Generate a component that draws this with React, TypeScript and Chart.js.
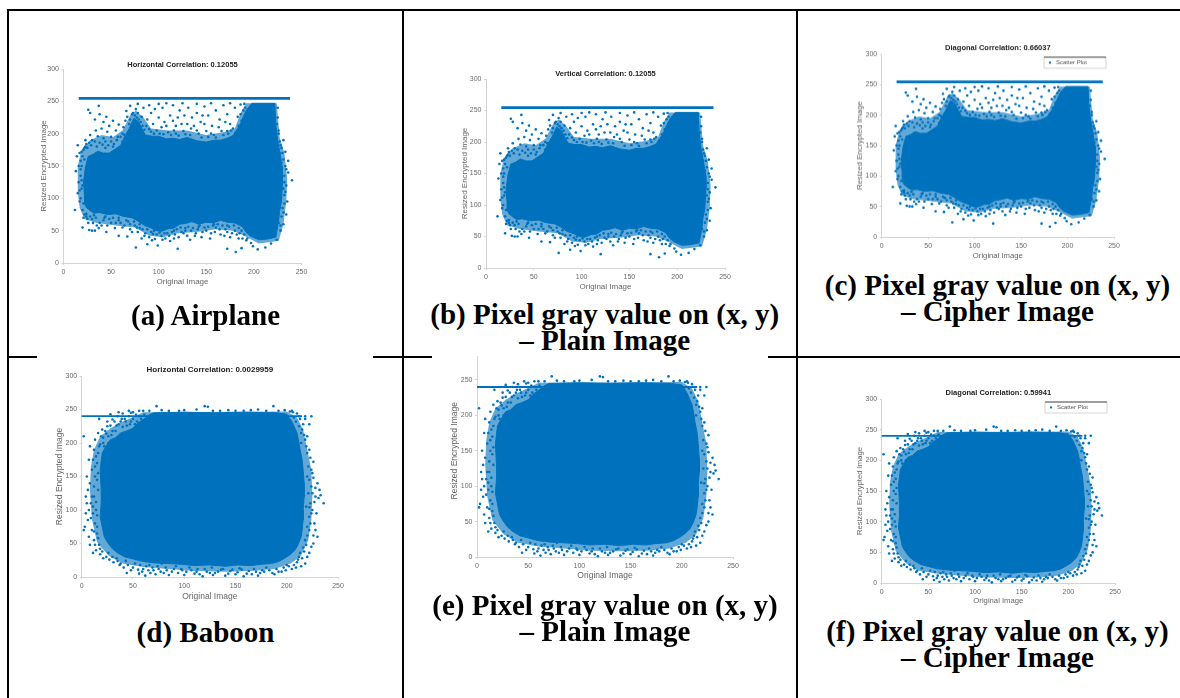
import React, { useEffect, useRef } from "react";
import { Chart, registerables } from "chart.js";

Chart.register(...registerables);

type Pt = [number, number];

const xTicksMax = 250;
const yTicksMax = 300;
const tickStep = 50;
const BLUE = "#0072BD";
const HALO = "rgba(0,114,189,0.62)";

// Airplane: dense body outline, speckled band outline, the saturated row, and scattered points
const airplaneBody: Pt[] = [
  [22, 105], [21, 125], [23, 148], [26, 165], [31, 168], [36, 173], [42, 170], [48, 170], [54, 176], [60, 182], [65, 198], [69, 208], [74, 224], [79, 218], [83, 206], [86, 198],
  [93, 196], [100, 196], [108, 192], [115, 193], [122, 191], [130, 194], [140, 189], [150, 187], [158, 190], [165, 190], [172, 193], [178, 197], [183, 208], [186, 216], [190, 230], [193, 238], [198, 247],
  [222, 247], [223, 215], [225, 190], [228, 165], [230, 145], [230, 125], [229, 95], [227, 80], [226, 65], [223, 40], [214, 37], [205, 36], [196, 42], [191, 49], [188, 56],
  [180, 62], [172, 63], [165, 66], [157, 62], [150, 63], [142, 60], [135, 64], [128, 61], [122, 60], [116, 54], [110, 53], [103, 49], [98, 50], [91, 55], [85, 58], [78, 65], [72, 70], [63, 72], [55, 76], [46, 75], [38, 78],
  [32, 77], [28, 81], [24, 86], [22, 92], [22, 105],
];
const airplaneBand: Pt[] = [
  [15, 110], [15, 150], [19, 175], [28, 190], [40, 198], [52, 195], [62, 205], [70, 228], [76, 236], [84, 225], [92, 208], [110, 205], [130, 205], [150, 198], [168, 202], [180, 208], [186, 232], [192, 247],
  [224, 247], [227, 195], [232, 170], [235, 130], [234, 95], [231, 60], [226, 34], [205, 30], [190, 42], [178, 50], [160, 52], [140, 48], [120, 46], [105, 40], [90, 42], [75, 55], [55, 58], [35, 62], [22, 68], [17, 85], [15, 110],
];
const airplaneRow: Pt[] = [[16, 254.5], [238, 254.5]];
const airplanePoints: Pt[] = [
  [26, 237], [37, 243], [28, 232], [33, 222], [38, 230], [42, 218], [45, 226], [48, 212], [52, 220], [55, 205],
  [58, 214], [62, 200], [40, 208], [46, 203], [34, 205], [28, 198], [23, 190], [30, 190], [36, 196], [42, 193],
  [50, 195], [56, 190], [63, 210], [66, 235], [70, 243], [78, 246], [84, 240], [90, 244], [92, 232], [96, 238],
  [100, 246], [104, 240], [108, 247], [88, 222], [94, 215], [100, 225], [106, 218], [112, 228], [118, 212], [122, 236],
  [127, 228], [131, 240], [135, 225], [140, 232], [144, 218], [148, 242], [152, 228], [156, 212], [160, 236], [164, 222],
  [168, 244], [172, 230], [175, 215], [180, 240], [183, 226], [186, 245], [190, 246], [126, 204], [134, 208], [142, 200],
  [150, 204], [158, 198], [166, 204], [172, 204], [110, 202], [118, 200], [98, 205], [90, 207], [78, 232], [72, 230],
  [76, 238], [82, 226], [115, 244], [125, 247], [140, 246], [155, 247], [175, 247], [146, 228], [170, 218], [178, 208],
  [186, 230], [130, 215], [115, 220], [103, 210], [120, 225], [15, 182], [14, 165], [13, 142], [16, 125], [15, 108],
  [12, 82], [18, 158], [19, 172], [18, 135], [19, 115], [17, 95], [20, 82], [19, 150], [22, 178], [24, 184],
  [21, 70], [24, 72], [20, 55], [26, 62], [27, 51], [30, 50], [33, 50], [35, 58], [30, 68], [38, 62],
  [42, 66], [46, 58], [50, 62], [54, 54], [58, 42], [60, 62], [64, 58], [67, 41], [70, 52], [75, 58],
  [78, 48], [82, 38], [86, 46], [90, 40], [94, 45], [96, 37], [103, 42], [107, 38], [112, 34], [117, 44],
  [124, 48], [130, 42], [134, 50], [139, 46], [145, 40], [150, 50], [155, 46], [160, 55], [165, 44], [170, 52],
  [175, 40], [180, 50], [185, 46], [188, 38], [192, 35], [76, 24], [88, 29], [99, 27], [120, 22], [172, 22],
  [181, 17], [187, 23], [199, 26], [204, 21], [212, 24], [218, 30], [197, 31], [240, 128], [236, 158], [233, 172],
  [231, 190], [229, 178], [233, 150], [236, 140], [234, 120], [232, 105], [235, 95], [234, 75], [231, 60], [230, 85],
  [232, 135], [228, 50], [226, 62], [224, 36], [229, 148], [231, 115], [228, 182], [44, 178], [52, 180], [66, 188],
  [24, 76], [32, 74], [44, 72], [58, 70], [68, 64], [80, 54], [92, 48], [116, 50], [128, 54], [142, 56],
  [158, 60], [172, 58], [184, 54], [226, 200], [224, 215], [225, 240],
  [16, 150], [17, 170], [17, 112], [18, 100], [20, 165], [20, 120], [21, 92], [22, 160], [22, 75], [23, 180], [19, 128], [18, 145], [21, 175], [25, 178], [27, 186],
  [29, 182], [33, 188], [35, 180], [38, 186], [41, 183], [44, 188], [47, 182], [50, 188], [53, 184], [57, 195], [60, 195], [62, 188], [64, 198], [65, 220], [67, 226],
  [69, 215], [70, 222], [73, 232], [75, 228], [77, 225], [79, 222], [81, 218], [83, 212], [85, 206], [87, 212], [92, 203], [95, 200], [101, 200], [105, 199], [108, 212],
  [113, 198], [116, 205], [121, 197], [124, 215], [128, 199], [133, 198], [137, 212], [140, 205], [145, 194], [148, 215], [152, 195], [155, 200], [160, 194], [163, 210], [168, 198],
  [173, 200], [176, 205], [181, 202], [184, 212], [187, 220], [189, 236], [191, 240], [25, 68], [28, 72], [31, 62], [34, 70], [37, 54], [40, 58], [43, 70], [45, 48],
  [48, 68], [52, 70], [55, 62], [58, 66], [62, 55], [66, 66], [70, 60], [72, 48], [74, 64], [77, 55], [80, 60], [83, 52], [85, 42], [88, 52], [91, 56],
  [93, 35], [95, 50], [98, 44], [101, 47], [104, 36], [106, 46], [109, 46], [111, 42], [114, 48], [116, 38], [119, 52], [121, 40], [123, 55], [126, 46], [128, 50],
  [131, 56], [133, 36], [136, 54], [138, 42], [141, 52], [143, 58], [146, 48], [148, 55], [152, 56], [154, 38], [157, 58], [159, 48], [162, 60], [164, 52], [167, 58],
  [169, 42], [172, 48], [174, 56], [177, 46], [179, 58], [182, 44], [184, 38], [187, 50], [190, 44], [193, 38], [228, 58], [229, 72], [231, 78], [232, 92], [233, 110],
  [232, 125], [234, 145], [231, 160], [230, 170], [227, 188], [226, 205], [225, 225], [227, 170], [229, 155], [228, 100], [229, 120],
];

// Baboon: dense body outline, speckled band outline, the saturated row, and scattered points
const baboonBody: Pt[] = [
  [19, 130], [18, 160], [20, 185], [24, 196], [28, 205], [33, 208], [38, 215], [44, 218], [50, 222], [55, 230], [60, 235], [65, 241], [70, 245], [100, 246], [130, 245], [160, 246], [190, 245], [200, 243],
  [205, 232], [208, 222], [210, 215], [212, 200], [213, 190], [215, 175], [216, 160], [217, 140], [217, 120], [216, 100], [216, 85], [215, 70], [214, 60], [211, 48], [208, 40], [203, 33], [198, 28], [192, 23], [185, 20],
  [175, 19], [165, 17], [152, 18], [140, 16], [125, 18], [110, 17], [97, 19], [85, 20], [72, 21], [60, 23], [50, 27], [42, 30], [35, 36], [30, 42], [25, 52], [22, 60], [20, 75], [18, 90], [19, 110], [19, 130],
];
const baboonBand: Pt[] = [
  [8, 130], [9, 165], [12, 190], [18, 210], [28, 222], [40, 232], [52, 240], [60, 246], [200, 247], [210, 238], [216, 220], [220, 190], [224, 160], [225, 120], [224, 85], [221, 55], [214, 32], [204, 20],
  [188, 12], [165, 9], [140, 8], [110, 9], [85, 12], [60, 15], [40, 20], [26, 32], [15, 52], [10, 85], [8, 130],
];
const baboonRow: Pt[] = [[0, 240], [215, 240]];
const baboonPoints: Pt[] = [
  [4, 95], [3, 75], [2, 70], [7, 60], [8, 48], [6, 130], [9, 110], [8, 140], [10, 160], [11, 175],
  [12, 190], [13, 205], [2, 210], [16, 215], [20, 220], [25, 232], [30, 235], [35, 240], [12, 120], [14, 100],
  [13, 80], [15, 65], [12, 55], [17, 48], [14, 40], [11, 36], [18, 34], [21, 28], [13, 150], [15, 170],
  [16, 185], [18, 198], [21, 208], [24, 214], [26, 200], [30, 218], [34, 226], [38, 232], [42, 236], [44, 226],
  [48, 232], [52, 228], [56, 240], [60, 226], [64, 230], [22, 195], [16, 130], [15, 145], [11, 95], [10, 70],
  [26, 36], [30, 30], [34, 28], [38, 20], [43, 24], [44, 6], [50, 14], [52, 20], [56, 5], [60, 12],
  [62, 2], [66, 18], [70, 10], [74, 16], [78, 20], [82, 14], [88, 8], [92, 16], [97, 12], [100, 3],
  [105, 14], [110, 5], [113, 12], [118, 1], [122, 8], [127, 14], [130, 6], [136, 11], [140, 2], [145, 9],
  [150, 4], [154, 13], [158, 1], [163, 9], [168, 12], [172, 2], [176, 10], [180, 14], [186, 6], [190, 12],
  [195, 8], [200, 18], [205, 12], [210, 22], [214, 16], [212, 30], [218, 20], [222, 36], [224, 45], [226, 62],
  [230, 60], [222, 90], [225, 100], [228, 120], [236, 110], [232, 130], [228, 133], [226, 148], [224, 160], [226, 172],
  [222, 190], [220, 210], [215, 220], [218, 205], [218, 236], [222, 228], [224, 240], [220, 150], [221, 125], [219, 105],
  [220, 75], [218, 55], [217, 38], [214, 200], [212, 225], [209, 232], [207, 238], [212, 240], [218, 240], [60, 248],
  [73, 255], [85, 248], [100, 249], [120, 255], [123, 254], [135, 248], [150, 248], [165, 249], [187, 255], [192, 248],
  [203, 247], [46, 248], [50, 246], [40, 244], [36, 246], [28, 243], [17, 236], [120, 230], [90, 228], [70, 232],
  [150, 222], [182, 232], [190, 224], [196, 215], [200, 225],
  [9, 88], [10, 120], [11, 105], [12, 135], [12, 68], [13, 165], [13, 48], [14, 180], [14, 112], [15, 92], [15, 75], [16, 155], [16, 58], [17, 195], [18, 42],
  [19, 210], [20, 38], [21, 200], [23, 218], [24, 30], [25, 225], [26, 210], [27, 26], [28, 226], [29, 212], [31, 22], [32, 232], [33, 218], [35, 24], [36, 228],
  [37, 18], [39, 236], [40, 224], [41, 14], [43, 232], [45, 18], [46, 240], [47, 228], [48, 10], [50, 236], [53, 242], [54, 232], [55, 11], [57, 18], [58, 236],
  [59, 8], [61, 242], [63, 16], [65, 10], [67, 6], [69, 14], [72, 4], [75, 12], [77, 8], [80, 6], [83, 10], [85, 3], [90, 12], [94, 6], [98, 10],
  [102, 8], [107, 10], [112, 8], [115, 4], [120, 12], [125, 6], [128, 3], [133, 8], [138, 12], [143, 5], [147, 11], [152, 7], [156, 11], [161, 5], [166, 4],
  [170, 8], [174, 6], [178, 8], [183, 10], [188, 4], [192, 8], [197, 14], [199, 10], [202, 16], [207, 18], [209, 14], [211, 26], [213, 36], [215, 28], [216, 44],
  [219, 48], [220, 62], [222, 70], [223, 80], [224, 95], [223, 110], [225, 125], [224, 135], [222, 145], [225, 155], [221, 165], [223, 178], [220, 185], [219, 195], [217, 212],
  [214, 215], [216, 228], [213, 236], [210, 244], [206, 246], [205, 248], [198, 249], [180, 248], [172, 250], [158, 248], [143, 249], [128, 248], [112, 250], [95, 248], [78, 249],
  [66, 248], [56, 248], [48, 245], [222, 104], [227, 112], [229, 95], [230, 140], [231, 118], [233, 122], [227, 80], [228, 70], [226, 50], [220, 30], [5, 110],
  [5, 150], [6, 85], [7, 100], [7, 175], [8, 195], [4, 120],
];

const yAxisTitle = "Resized Encrypted Image";
const xAxisTitle = "Original Image";
const legendLabel = "Scatter Plot";

const panels = [
  { key: "a", body: airplaneBody, band: airplaneBand, row: airplaneRow, rowWidth: 2.6, points: airplanePoints, title: "Horizontal Correlation: 0.12055", legend: false,
    plot: [63.5, 301.5, 69, 263], clip: [12, 40, 385, 260], gap: 0.5, yGap: 21.5, xGap: 20, size: 8, titleSize: 7.5 },
  { key: "b", body: airplaneBody, band: airplaneBand, row: airplaneRow, rowWidth: 2.6, points: airplanePoints, title: "Vertical Correlation: 0.12055", legend: false,
    plot: [486, 725, 79, 268], clip: [410, 60, 382, 235], gap: 1.5, yGap: 23, xGap: 20, size: 8, titleSize: 7.5 },
  { key: "c", body: airplaneBody, band: airplaneBand, row: airplaneRow, rowWidth: 2.6, points: airplanePoints, title: "Diagonal Correlation: 0.66037", legend: true,
    plot: [881.7, 1114, 54.3, 237], clip: [805, 30, 370, 235], gap: 2.8, yGap: 22.7, xGap: 20, size: 7.7, titleSize: 7.5 },
  { key: "d", body: baboonBody, band: baboonBand, row: baboonRow, rowWidth: 1.8, points: baboonPoints, title: "Horizontal Correlation: 0.0029959", legend: false,
    plot: [81.7, 338, 376, 577], clip: [37, 350, 336, 265], gap: 2.5, yGap: 23.7, xGap: 21, size: 8.5, titleSize: 8 },
  { key: "e", body: baboonBody, band: baboonBand, row: baboonRow, rowWidth: 1.8, points: baboonPoints, title: "", legend: false,
    plot: [477, 733, 355, 557], clip: [432, 356, 336, 236], gap: 2.5, yGap: 24, xGap: 20, size: 8.5, titleSize: 8 },
  { key: "f", body: baboonBody, band: baboonBand, row: baboonRow, rowWidth: 1.8, points: baboonPoints, title: "Diagonal Correlation: 0.59941", legend: true,
    plot: [881.7, 1115, 399, 583], clip: [805, 380, 370, 230], gap: 2.5, yGap: 22.7, xGap: 19, size: 7.7, titleSize: 7.5 },
];

const captions = [
  { lines: ["(a) Airplane"], cx: 205.5, baseline: 325 },
  { lines: ["(b) Pixel gray value on (x, y)", "– Plain Image"], cx: 604.7, baseline: 324 },
  { lines: ["(c) Pixel gray value on (x, y)", "– Cipher Image"], cx: 997.5, baseline: 295 },
  { lines: ["(d) Baboon"], cx: 205.5, baseline: 641.7 },
  { lines: ["(e) Pixel gray value on (x, y)", "– Plain Image"], cx: 605, baseline: 615 },
  { lines: ["(f) Pixel gray value on (x, y)", "– Cipher Image"], cx: 997.5, baseline: 641 },
];

const rules = [
  [7, 9, 2, 689], [402, 9, 2, 689], [796, 9, 2, 689], [7, 9, 1173, 2],
  [7, 356, 1173, 2],
];

const legendBoxPlugin = {
  id: "legendBox",
  afterLayout(chart: any) {
    const l = chart.legend;
    if (!l || !chart.options.plugins.legend.display) return;
    const a = chart.chartArea;
    l.left = a.right - 69;
    l.right = a.right - 5;
    l.top = a.top + 3.5;
    l.bottom = a.top + 14;
  },
  beforeDraw(chart: any) {
    if (!chart.options.plugins.legend.display) return;
    const a = chart.chartArea;
    const c = chart.ctx;
    c.save();
    c.strokeStyle = "#d6d6d6";
    c.lineWidth = 1;
    c.strokeRect(a.right - 70, a.top + 3, 62, 11);
    c.strokeStyle = "#555";
    c.beginPath();
    c.moveTo(a.right - 70, a.top + 3);
    c.lineTo(a.right - 8, a.top + 3);
    c.stroke();
    c.restore();
  },
};

function Panel({ p }: { p: (typeof panels)[number] }) {
  const ref = useRef<HTMLCanvasElement>(null);
  const [pl, pr, pt, pb] = p.plot;
  const [cx, cy, cw, ch] = p.clip;
  const canvasTop = pt - 30;
  const canvasH = cy + ch - canvasTop;
  useEffect(() => {
    const ts = p.titleSize;
    const yW = p.yGap + 3.5;
    const xH = p.xGap + 3.5;
    const axisFont = { family: "'Liberation Sans', Arial, sans-serif", size: p.size };
    const tickFont = { family: "'Liberation Sans', Arial, sans-serif", size: 7 };
    const axis = (title: string, max: number) => ({
      type: "linear",
      min: 0,
      max,
      border: { display: true, color: "#d4d4d4", width: 1 },
      grid: { drawOnChartArea: false, drawTicks: true, tickLength: 2, color: "#d4d4d4" },
      ticks: { stepSize: tickStep, font: tickFont, color: "#6a6a6a", padding: 2.5, maxRotation: 0, autoSkip: false },
      title: { display: true, text: title, font: axisFont, color: "#666", padding: 0 },
    });
    const chart = new Chart(ref.current as HTMLCanvasElement, {
      type: "scatter",
      plugins: [legendBoxPlugin],
      data: {
        datasets: [
          { label: legendLabel, data: p.points.map(([x, y]) => ({ x, y })), backgroundColor: BLUE, borderColor: BLUE, pointRadius: 1.3, pointBorderWidth: 0, pointStyle: "circle", clip: false },
          { label: "row", data: p.row.map(([x, y]) => ({ x, y })), showLine: true, backgroundColor: BLUE, borderColor: BLUE, borderWidth: p.rowWidth, pointRadius: 0, clip: false },
          { label: "body", data: p.body.map(([x, y]) => ({ x, y })), showLine: true, fill: "shape", backgroundColor: BLUE, borderColor: BLUE, borderWidth: 1, pointRadius: 0, clip: false },
          { label: "band", data: p.band.map(([x, y]) => ({ x, y })), showLine: true, fill: "shape", backgroundColor: HALO, borderWidth: 0, borderColor: "rgba(0,0,0,0)", pointRadius: 0, clip: false },
        ],
      },
      options: {
        animation: false,
        responsive: false,
        maintainAspectRatio: false,
        layout: {
          padding: {
            left: pl - cx - yW,
            right: cx + cw - pr,
            top: 30 - ts - p.gap,
            bottom: canvasTop + canvasH - pb - xH,
          },
        },
        scales: {
          x: { ...axis(xAxisTitle, xTicksMax), afterFit: (s: any) => { s.height = xH; } },
          y: { ...axis(yAxisTitle, yTicksMax), afterFit: (s: any) => { s.width = yW; } },
        },
        plugins: {
          tooltip: { enabled: false },
          title: {
            display: !!p.title,
            text: p.title,
            fullSize: false,
            color: "#222",
            font: { family: "'Liberation Sans', Arial, sans-serif", size: ts, weight: "bold", lineHeight: 1 },
            padding: { top: 0, bottom: p.gap },
          },
          legend: {
            display: p.legend,
            position: "chartArea",
            align: "start",
            labels: {
              filter: (item: any) => item.text === legendLabel,
              usePointStyle: true,
              boxWidth: 20,
              boxHeight: 1.6,
              padding: 2,
              color: "#555",
              font: { family: "'Liberation Sans', Arial, sans-serif", size: 6 },
            },
          },
        },
      },
    } as any);
    return () => chart.destroy();
  }, []);
  return (
    <div style={{ position: "absolute", left: cx, top: cy, width: cw, height: ch, background: "#fff", overflow: "hidden" }}>
      <canvas
        ref={ref}
        width={cw}
        height={canvasH}
        style={{ position: "absolute", left: 0, top: canvasTop - cy, width: cw, height: canvasH, filter: "blur(0.65px)" }}
      />
    </div>
  );
}

export default function App() {
  return (
    <div style={{ position: "absolute", left: 0, top: 0, width: 1180, height: 698, overflow: "hidden", background: "#fff" }}>
      {rules.map(([x, y, w, h], i) => (
        <div key={i} style={{ position: "absolute", left: x, top: y, width: w, height: h, background: "#000" }} />
      ))}
      {panels.map((p) => (
        <Panel key={p.key} p={p} />
      ))}
      {captions.map((c, i) => (
        <div
          key={i}
          style={{
            position: "absolute",
            left: c.cx - 195,
            width: 390,
            top: c.baseline - 22.8,
            textAlign: "center",
            fontFamily: "'Liberation Serif', 'Times New Roman', serif",
            fontWeight: "bold",
            fontSize: 29,
            lineHeight: "26px",
            color: "#000",
            whiteSpace: "nowrap",
          }}
        >
          {c.lines.map((t, j) => (
            <div key={j}>{t}</div>
          ))}
        </div>
      ))}
    </div>
  );
}
